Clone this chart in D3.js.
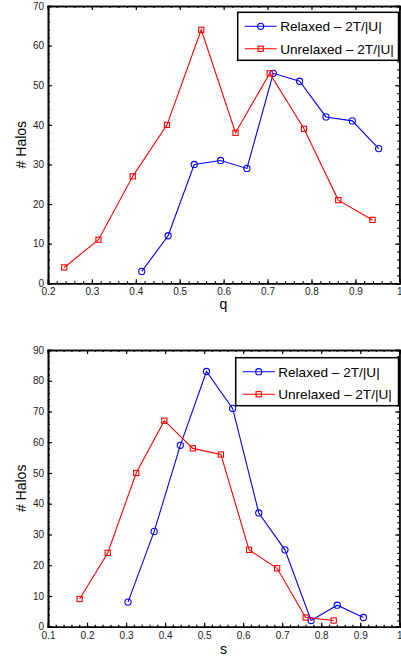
<!DOCTYPE html>
<html><head><meta charset="utf-8">
<script src="https://cdn.jsdelivr.net/npm/d3@7"></script>
<style>
html,body{margin:0;padding:0;background:#fff;}
svg{display:block;font-family:"Liberation Sans",Arial,sans-serif;}
</style></head>
<body>
<svg id="c" width="401" height="660"></svg>
<script>
// ---- data: top panel (q) ----
const qRelaxed = [0.4135, 0.4735, 0.533, 0.593, 0.653, 0.713, 0.773, 0.833, 0.893, 0.953];
const nRelaxedQ = [3, 12, 30, 31, 29, 53, 51, 42, 41, 34];
const qUnrelaxed = [0.237, 0.315, 0.393, 0.471, 0.549, 0.627, 0.705, 0.783, 0.861, 0.939];
const nUnrelaxedQ = [4, 11, 27, 40, 64, 38, 53, 39, 21, 16];
// ---- data: bottom panel (s) ----
const sRelaxed = [0.305, 0.372, 0.439, 0.506, 0.573, 0.640, 0.707, 0.774, 0.841, 0.908];
const nRelaxedS = [8, 31, 59, 83, 71, 37, 25, 2, 7, 3];
const sUnrelaxed = [0.181, 0.253, 0.326, 0.398, 0.471, 0.543, 0.615, 0.687, 0.760, 0.832];
const nUnrelaxedS = [9, 24, 50, 67, 58, 56, 25, 19, 3, 2];
// ---- ticks / labels ----
const qTicks = [0.2, 0.3, 0.4, 0.5, 0.6, 0.7, 0.8, 0.9, 1];
const sTicks = [0.1, 0.2, 0.3, 0.4, 0.5, 0.6, 0.7, 0.8, 0.9, 1];
const yTicksTop = [0, 10, 20, 30, 40, 50, 60, 70];
const yTicksBottom = [0, 10, 20, 30, 40, 50, 60, 70, 80, 90];
const legendLabels = ["Relaxed \u2013 2T/|U|", "Unrelaxed \u2013 2T/|U|"];
const seriesColors = ["#0000ff", "#ff0000"];

const svg = d3.select("#c");

function fmt(d){ return d === 1 ? "1" : (d === 0 ? "0" : String(d)); }

function panel(cfg){
  const g = svg.append("g");
  const x = d3.scaleLinear().domain(cfg.xDomain).range([48, 399.3]);
  const y = d3.scaleLinear().domain(cfg.yDomain).range([cfg.bottom, cfg.top]);
  const xMinor = d3.range(cfg.xDomain[0], cfg.xDomain[1] + 1e-9, 0.02).map(v => +v.toFixed(3));
  const yMinor = d3.range(cfg.yDomain[0], cfg.yDomain[1] + 1e-9, 2);

  // minor ticks
  g.append("g").attr("transform", `translate(0,${cfg.bottom})`)
    .call(d3.axisBottom(x).tickValues(xMinor).tickSize(-2).tickFormat(""));
  g.append("g").attr("transform", `translate(0,${cfg.top})`)
    .call(d3.axisTop(x).tickValues(xMinor).tickSize(-2).tickFormat(""));
  g.append("g").attr("transform", `translate(48,0)`)
    .call(d3.axisLeft(y).tickValues(yMinor).tickSize(-2).tickFormat(""));
  g.append("g").attr("transform", `translate(399.3,0)`)
    .call(d3.axisRight(y).tickValues(yMinor).tickSize(-2).tickFormat(""));

  // major ticks with labels
  const xb = g.append("g").attr("transform", `translate(0,${cfg.bottom})`)
    .call(d3.axisBottom(x).tickValues(cfg.xTicks).tickSize(-4).tickPadding(5).tickFormat(fmt));
  g.append("g").attr("transform", `translate(0,${cfg.top})`)
    .call(d3.axisTop(x).tickValues(cfg.xTicks).tickSize(-4).tickFormat(""));
  const yl = g.append("g").attr("transform", `translate(48,0)`)
    .call(d3.axisLeft(y).tickValues(cfg.yTicks).tickSize(-4).tickPadding(4).tickFormat(fmt));
  g.append("g").attr("transform", `translate(399.3,0)`)
    .call(d3.axisRight(y).tickValues(cfg.yTicks).tickSize(-4).tickFormat(""));

  g.selectAll(".domain").attr("stroke", "#000").attr("stroke-width", 1.6);
  g.selectAll(".tick line").attr("stroke", "#000").attr("stroke-width", 1.2);
  g.selectAll(".tick text").attr("font-size", 10).attr("fill", "#222")
    .attr("font-family", "'Liberation Sans',Arial,sans-serif");

  // series
  const series = [
    {xs: cfg.xR, ys: cfg.yR, color: seriesColors[0], marker: "circle"},
    {xs: cfg.xU, ys: cfg.yU, color: seriesColors[1], marker: "square"}
  ];
  const line = d3.line().x(d => x(d[0])).y(d => y(d[1]));
  series.forEach(s => {
    const pts = s.xs.map((v, i) => [v, s.ys[i]]);
    g.append("path").datum(pts).attr("d", line).attr("fill", "none")
      .attr("stroke", s.color).attr("stroke-width", 1.1);
    if (s.marker === "circle") {
      g.selectAll(null).data(pts).enter().append("circle")
        .attr("cx", d => x(d[0])).attr("cy", d => y(d[1])).attr("r", 3.1)
        .attr("fill", "none").attr("stroke", s.color).attr("stroke-width", 1.1);
    } else {
      g.selectAll(null).data(pts).enter().append("rect")
        .attr("x", d => x(d[0]) - 2.6).attr("y", d => y(d[1]) - 2.6)
        .attr("width", 5.2).attr("height", 5.2)
        .attr("fill", "none").attr("stroke", s.color).attr("stroke-width", 1.1);
    }
  });

  // axis titles
  g.append("text").attr("x", 223.5).attr("y", cfg.bottom + cfg.xTitleOff)
    .attr("text-anchor", "middle").attr("font-size", 14).attr("fill", "#000").text(cfg.xTitle);
  g.append("text").attr("transform", `translate(26,${(cfg.top + cfg.bottom) / 2}) rotate(-90)`)
    .attr("text-anchor", "middle").attr("font-size", 14).attr("fill", "#000").text("# Halos");

  // legend
  const lg = g.append("g");
  lg.append("rect").attr("x", cfg.legX).attr("y", cfg.legY).attr("width", 398.5 - cfg.legX).attr("height", 48)
    .attr("fill", "#fff").attr("stroke", "#000").attr("stroke-width", 1.5);
  legendLabels.forEach((lab, i) => {
    const ly = cfg.legY + 14 + i * 22.5;
    const lx0 = cfg.legX + 7, lx1 = cfg.legX + 39, mx = (lx0 + lx1) / 2;
    lg.append("line").attr("x1", lx0).attr("x2", lx1).attr("y1", ly).attr("y2", ly)
      .attr("stroke", seriesColors[i]).attr("stroke-width", 1.1);
    if (i === 0) {
      lg.append("circle").attr("cx", mx).attr("cy", ly).attr("r", 3.1)
        .attr("fill", "none").attr("stroke", seriesColors[i]).attr("stroke-width", 1.1);
    } else {
      lg.append("rect").attr("x", mx - 2.6).attr("y", ly - 2.6).attr("width", 5.2).attr("height", 5.2)
        .attr("fill", "none").attr("stroke", seriesColors[i]).attr("stroke-width", 1.1);
    }
    lg.append("text").attr("x", lx1 + 3.5).attr("y", ly + 5).attr("font-size", 13.6)
      .attr("fill", "#000").text(lab);
  });
}

panel({xDomain: [0.2, 1], yDomain: [0, 70], top: 6, bottom: 283.3,
  xTicks: qTicks, yTicks: yTicksTop,
  xR: qRelaxed, yR: nRelaxedQ, xU: qUnrelaxed, yU: nUnrelaxedQ,
  xTitle: "q", xTitleOff: 26, legX: 237.7, legY: 12.3});

panel({xDomain: [0.1, 1], yDomain: [0, 90], top: 350, bottom: 626.7,
  xTicks: sTicks, yTicks: yTicksBottom,
  xR: sRelaxed, yR: nRelaxedS, xU: sUnrelaxed, yU: nUnrelaxedS,
  xTitle: "s", xTitleOff: 27, legX: 235.7, legY: 357.7});
</script>
</body></html>
